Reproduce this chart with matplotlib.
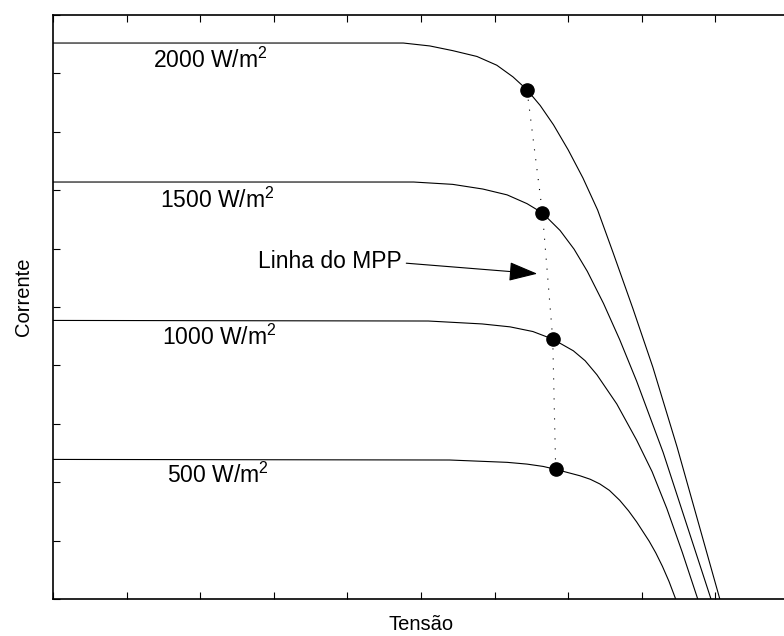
import matplotlib
matplotlib.use("Agg")
import matplotlib.pyplot as plt

# Curvas I-V de um painel fotovoltaico para várias irradiâncias
# (eixos sem escala, valores em unidades arbitrárias)
plt.rcParams['font.family'] = ['Liberation Sans', 'DejaVu Sans']
plt.rcParams['mathtext.fontset'] = 'custom'
plt.rcParams['mathtext.rm'] = 'Liberation Sans'
plt.rcParams['mathtext.it'] = 'Liberation Sans:italic'

v_2000 = [0.0, 4.76, 5.12, 5.43, 5.76, 6.03, 6.25, 6.44, 6.62, 6.80, 7.00,
          7.20, 7.40, 7.61, 7.88, 8.15, 8.48, 9.06]
i_2000 = [9.52, 9.52, 9.47, 9.39, 9.29, 9.14, 8.94, 8.72, 8.45, 8.12, 7.69,
          7.21, 6.66, 5.93, 4.97, 3.97, 2.60, 0.0]

v_1500 = [0.0, 4.90, 5.43, 5.84, 6.17, 6.44, 6.65, 6.89, 7.08, 7.26, 7.48,
          7.70, 7.93, 8.29, 8.94]
i_1500 = [7.14, 7.14, 7.10, 7.02, 6.92, 6.77, 6.61, 6.31, 5.99, 5.61, 5.06,
          4.44, 3.73, 2.51, 0.0]

v_1000 = [0.0, 5.10, 5.83, 6.21, 6.52, 6.79, 7.07, 7.23, 7.39, 7.66, 7.93,
          8.14, 8.34, 8.55, 8.76]
i_1000 = [4.77, 4.76, 4.71, 4.66, 4.58, 4.45, 4.25, 4.08, 3.84, 3.34, 2.72,
          2.18, 1.55, 0.80, 0.0]

v_500 = [0.0, 5.39, 6.17, 6.44, 6.66, 6.83, 7.16, 7.30, 7.43, 7.56, 7.70,
         7.82, 7.93, 8.10, 8.19, 8.28, 8.37, 8.46]
i_500 = [2.39, 2.38, 2.34, 2.31, 2.27, 2.22, 2.11, 2.05, 1.97, 1.86, 1.69,
         1.51, 1.32, 0.99, 0.79, 0.56, 0.30, 0.0]

# Pontos de máxima potência (MPP)
mpp_v = [6.44, 6.65, 6.79, 6.83]
mpp_i = [8.72, 6.61, 4.45, 2.22]

rotulos = ["2000 W/m$^2$", "1500 W/m$^2$", "1000 W/m$^2$", "500 W/m$^2$"]

fig = plt.figure(figsize=(7.84, 6.36), dpi=100)
# o eixo vai um pouco além da borda direita da figura
ax = fig.add_axes([53 / 784, 37 / 636, 745 / 784, 584 / 636])

for v, i in [(v_2000, i_2000), (v_1500, i_1500), (v_1000, i_1000), (v_500, i_500)]:
    ax.plot(v, i, color='k', lw=0.8)

# linha do MPP (pontilhada) e os pontos
ax.plot(mpp_v, mpp_i, color='k', lw=0.8, linestyle=(0, (1, 8)))
ax.plot(mpp_v, mpp_i, 'o', color='k', ms=9.5, zorder=3)

pos_rotulos = [(1.36, 9.09), (1.45, 6.70), (1.48, 4.35), (1.55, 1.99)]
for txt, (x, y) in zip(rotulos, pos_rotulos):
    ax.text(x, y, txt, fontsize=16.5, ha='left', va='baseline')

ax.text(2.79, 5.67, "Linha do MPP", fontsize=16.5, ha='left', va='baseline')
ax.annotate("", xy=(6.58, 5.57), xytext=(4.80, 5.75),
            arrowprops=dict(arrowstyle='-|>,head_length=0.9,head_width=0.3',
                            color='k', lw=0.8, shrinkA=0, shrinkB=0,
                            mutation_scale=20))

# 736 px correspondem a 10 unidades de tensão
ax.set_xlim(0, 10 * 745 / 736)
ax.set_ylim(0, 10)
ax.set_xticks(range(11))
ax.set_yticks(range(11))
ax.set_xticklabels([])
ax.set_yticklabels([])
ax.tick_params(direction='in', length=5, width=0.8, top=True, right=False)
for s in ax.spines.values():
    s.set_linewidth(1.2)
ax.spines['right'].set_visible(False)

ax.set_xlabel("Tensão", fontsize=14.5)
ax.set_ylabel("Corrente", fontsize=14.5)
ax.xaxis.set_label_coords(0.5 * 736 / 745, -0.027)
ax.yaxis.set_label_coords(-0.027 * 736 / 745, 0.517)

plt.savefig("out.png", dpi=100)
